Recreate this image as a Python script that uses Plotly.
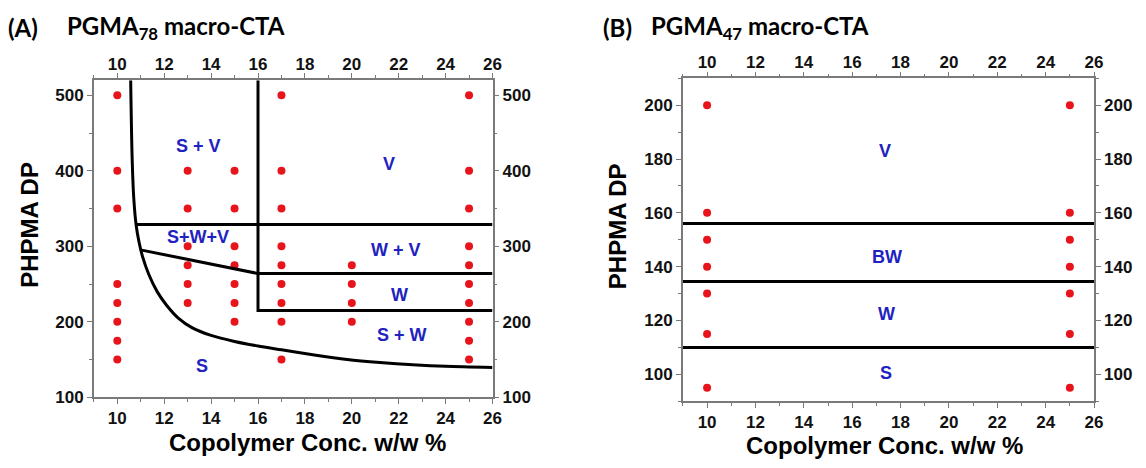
import plotly.graph_objects as go

# ---------------- Panel A data (PGMA78 macro-CTA) ----------------
a_conc = [10, 13, 15, 17, 20, 25]
a_dp = [
    [500, 400, 350, 250, 225, 200, 175, 150],
    [400, 350, 300, 275, 250, 225],
    [400, 350, 300, 275, 250, 225, 200],
    [500, 400, 350, 300, 275, 250, 225, 200, 150],
    [275, 250, 225, 200],
    [500, 400, 350, 300, 275, 250, 225, 200, 175, 150],
]

# phase boundaries
a_curve_x = [10.57, 10.63, 10.7, 10.8, 10.93, 11.08, 11.34, 11.7, 12.1, 12.6, 13.2, 14.0, 15.0, 16.0, 17.0, 18.4, 19.8, 21.2, 22.6, 24.0, 26.0]
a_curve_y = [520, 420, 365, 329, 305, 286, 263, 240, 222, 205, 192, 182, 174, 168, 163, 156, 150, 146, 143, 141, 139.5]
a_box_x = [16, 16, 26]
a_box_y = [520, 215, 215]
a_top_x = [10.8, 26]
a_top_y = [329, 329]
a_slant_x = [11.04, 16, 26]
a_slant_y = [295, 264, 264]

a_labels = ["S + V", "V", "S+W+V", "W + V", "W", "S + W", "S"]
a_label_x = [13.45, 21.6, 13.45, 21.9, 22.05, 22.15, 13.6]
a_label_y = [433, 409, 312, 295, 235, 183, 142]

# ---------------- Panel B data (PGMA47 macro-CTA) ----------------
b_conc = [10, 25]
b_dp = [200, 160, 150, 140, 130, 115, 95]
b_bounds = [156, 134.5, 110]
b_labels = ["V", "BW", "W", "S"]
b_label_x = [17.35, 17.45, 17.4, 17.4]
b_label_y = [183, 143.5, 122.4, 100.6]

x_ticks = [10, 12, 14, 16, 18, 20, 22, 24, 26]
a_y_ticks = [100, 200, 300, 400, 500]
b_y_ticks = [100, 120, 140, 160, 180, 200]

W, H = 1146, 468
RED = "#e8141c"
BLUE = "#2222c0"
FRAME = "#7a7a7a"
TICKFONT = dict(family="Liberation Sans, Arial", size=17, color="#111", weight=700)

fig = go.Figure()

# Panel A points
px, py = [], []
for c, vals in zip(a_conc, a_dp):
    for v in vals:
        px.append(c)
        py.append(v)
fig.add_trace(go.Scatter(x=px, y=py, mode="markers", xaxis="x", yaxis="y",
                         marker=dict(color=RED, size=8), showlegend=False))
line_style = dict(color="black", width=3)
fig.add_trace(go.Scatter(x=a_curve_x, y=a_curve_y, mode="lines", xaxis="x", yaxis="y",
                         line=dict(color="black", width=3, shape="spline", smoothing=0.8), showlegend=False))
for lx, ly in [(a_box_x, a_box_y), (a_top_x, a_top_y), (a_slant_x, a_slant_y)]:
    fig.add_trace(go.Scatter(x=lx, y=ly, mode="lines", xaxis="x", yaxis="y",
                             line=line_style, showlegend=False))

# Panel B points
qx, qy = [], []
for c in b_conc:
    for v in b_dp:
        qx.append(c)
        qy.append(v)
fig.add_trace(go.Scatter(x=qx, y=qy, mode="markers", xaxis="x2", yaxis="y2",
                         marker=dict(color=RED, size=8), showlegend=False))
for b in b_bounds:
    fig.add_trace(go.Scatter(x=[9, 26], y=[b, b], mode="lines", xaxis="x2", yaxis="y2",
                             line=line_style, showlegend=False))

# domains from pixel geometry
a_dom_x = [94.6 / W, 496.4 / W]
a_dom_y = [1 - 406 / H, 1 - 82 / H]
b_dom_x = [688.3 / W, 1102.7 / W]
b_dom_y = [1 - 410 / H, 1 - 80 / H]


def xax(domain, anchor, **kw):
    d = dict(domain=domain, anchor=anchor, range=[9, 26], tickvals=x_ticks,
             ticks="outside", ticklen=5, tickwidth=1.2, tickcolor=FRAME,
             showline=True, linecolor=FRAME, linewidth=1.5, mirror="allticks",
             showgrid=False, zeroline=False, tickfont=TICKFONT,
             minor=dict(dtick=1, ticks="outside", ticklen=3, tickcolor=FRAME, showgrid=False))
    d.update(kw)
    return d


def yax(domain, anchor, rng, tv, mdt, **kw):
    d = dict(domain=domain, anchor=anchor, range=rng, tickvals=tv,
             ticks="outside", ticklen=5, tickwidth=1.2, tickcolor=FRAME,
             showline=True, linecolor=FRAME, linewidth=1.5, mirror="allticks",
             showgrid=False, zeroline=False, tickfont=TICKFONT,
             minor=dict(dtick=mdt, ticks="outside", ticklen=3, tickcolor=FRAME, showgrid=False))
    d.update(kw)
    return d


fig.update_layout(
    width=W, height=H, margin=dict(l=0, r=0, t=0, b=0),
    paper_bgcolor="white", plot_bgcolor="white", showlegend=False,
    xaxis=xax(a_dom_x, "y"),
    yaxis=yax(a_dom_y, "x", [100, 520], a_y_ticks, 50),
    xaxis2=xax(b_dom_x, "y2"),
    yaxis2=yax(b_dom_y, "x2", [90, 210], b_y_ticks, 10),
    # label-only mirrored axes (top / right)
    xaxis3=dict(overlaying="x", anchor="y", side="top", range=[9, 26], tickvals=x_ticks,
                ticks="", showline=False, showgrid=False, zeroline=False, tickfont=TICKFONT,
                ticklabelstandoff=6),
    yaxis3=dict(overlaying="y", anchor="x", side="right", range=[100, 520], tickvals=a_y_ticks,
                ticks="", showline=False, showgrid=False, zeroline=False, tickfont=TICKFONT,
                ticklabelstandoff=9),
    xaxis4=dict(overlaying="x2", anchor="y2", side="top", range=[9, 26], tickvals=x_ticks,
                ticks="", showline=False, showgrid=False, zeroline=False, tickfont=TICKFONT,
                ticklabelstandoff=6),
    yaxis4=dict(overlaying="y2", anchor="x2", side="right", range=[90, 210], tickvals=b_y_ticks,
                ticks="", showline=False, showgrid=False, zeroline=False, tickfont=TICKFONT,
                ticklabelstandoff=9),
)

# invisible traces so overlay axes are rendered
fig.add_trace(go.Scatter(x=[9], y=[100], xaxis="x3", yaxis="y3", mode="markers",
                         marker=dict(opacity=0), showlegend=False, hoverinfo="skip"))
fig.add_trace(go.Scatter(x=[9], y=[90], xaxis="x4", yaxis="y4", mode="markers",
                         marker=dict(opacity=0), showlegend=False, hoverinfo="skip"))

ann = []
lab_font = dict(family="Liberation Sans, Arial", size=18, color=BLUE, weight=700)
for t, x, y in zip(a_labels, a_label_x, a_label_y):
    ann.append(dict(text=t, x=x, y=y, xref="x", yref="y", showarrow=False, font=lab_font))
for t, x, y in zip(b_labels, b_label_x, b_label_y):
    ann.append(dict(text=t, x=x, y=y, xref="x2", yref="y2", showarrow=False, font=lab_font))

title_font = dict(family="Lato, Open Sans", size=24, color="black", weight=700)
ax_font = dict(family="Liberation Sans, Arial", size=24, color="black", weight=700)
ann += [
    dict(text="(A)", x=6 / W, y=1 - 28 / H, xref="paper", yref="paper", xanchor="left",
         yanchor="middle", showarrow=False, font=title_font),
    dict(text="PGMA<sub>78</sub> macro-CTA", x=66 / W, y=1 - 28 / H, xref="paper", yref="paper",
         xanchor="left", yanchor="middle", showarrow=False, font=title_font),
    dict(text="(B)", x=606 / W, y=1 - 28 / H, xref="paper", yref="paper", xanchor="left",
         yanchor="middle", showarrow=False, font=title_font),
    dict(text="PGMA<sub>47</sub> macro-CTA", x=654 / W, y=1 - 28 / H, xref="paper", yref="paper",
         xanchor="left", yanchor="middle", showarrow=False, font=title_font),
    dict(text="PHPMA DP", x=29 / W, y=1 - 230 / H, xref="paper", yref="paper", textangle=-90,
         xanchor="center", yanchor="middle", showarrow=False, font=ax_font),
    dict(text="PHPMA DP", x=622 / W, y=1 - 231 / H, xref="paper", yref="paper", textangle=-90,
         xanchor="center", yanchor="middle", showarrow=False, font=ax_font),
    dict(text="Copolymer Conc. w/w %", x=310 / W, y=1 - 452 / H, xref="paper", yref="paper",
         xanchor="center", yanchor="middle", showarrow=False, font=ax_font),
    dict(text="Copolymer Conc. w/w %", x=892 / W, y=1 - 455 / H, xref="paper", yref="paper",
         xanchor="center", yanchor="middle", showarrow=False, font=ax_font),
]
fig.update_layout(annotations=ann)

fig.write_html("out.html")
